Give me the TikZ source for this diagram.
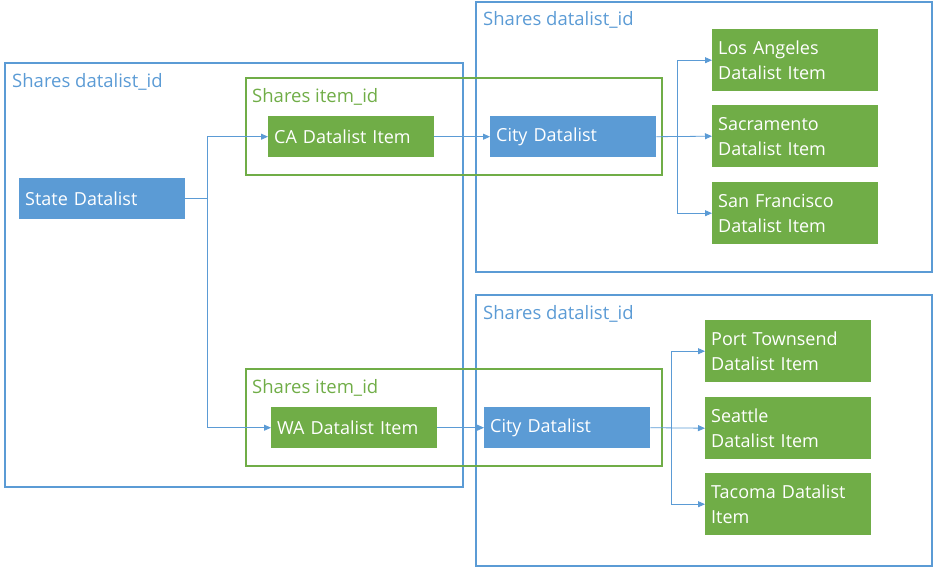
\documentclass[tikz,border=0pt]{standalone}
\usepackage{fontspec}
\setmainfont{Open Sans}
\usetikzlibrary{arrows.meta}
\definecolor{offblue}{HTML}{5B9BD5}
\definecolor{offgreen}{HTML}{70AD47}
\tikzset{
  dlbox/.style={fill=#1, text=white, anchor=north west, minimum width=166pt, inner xsep=6pt,
    text width=154pt, align=left, font=\fontsize{18}{25}\selectfont},
  listbox/.style={dlbox=offblue, minimum height=41pt},
  itembox/.style={dlbox=offgreen, minimum height=41pt},
  itembox2/.style={dlbox=offgreen, minimum height=62pt},
  frame/.style={draw=#1, line width=1.3pt},
  framelabel/.style={text=#1, anchor=west, inner sep=0pt, font=\fontsize{18.5}{22}\selectfont},
  link/.style={draw=offblue, line width=0.8pt, -{Triangle[length=7pt,width=6pt]}},
}
\begin{document}
\begin{tikzpicture}[x=1pt,y=-1pt]
  \useasboundingbox (0,0) rectangle (935,568);
  %riquadri datalist
  \draw[frame=offblue](5,63)rectangle(463,487);
  \draw[frame=offblue](476,2)rectangle(932,272);
  \draw[frame=offblue](476,295)rectangle(932,566);
  \node[framelabel=offblue] (lblstate) at (12,82) {Shares datalist\_id};
  \node[framelabel=offblue] (lblca) at (483,20) {Shares datalist\_id};
  \node[framelabel=offblue] (lblwa) at (483,314) {Shares datalist\_id};
  %riquadri item
  \draw[frame=offgreen](246,78)rectangle(662,175);
  \draw[frame=offgreen](246,369)rectangle(662,466);
  \node[framelabel=offgreen] (lblitemca) at (252,97) {Shares item\_id};
  \node[framelabel=offgreen] (lblitemwa) at (252,388) {Shares item\_id};
  %nodi
  \node[listbox] (state) at (19,178) {State Datalist};
  \node[itembox] (ca) at (268,116) {CA Datalist Item};
  \node[itembox] (wa) at (271,407) {WA Datalist Item};
  \node[listbox] (cityca) at (490,116) {City Datalist};
  \node[listbox] (citywa) at (484,407) {City Datalist};
  \node[itembox2] (la) at (712,29) {Los Angeles\\Datalist Item};
  \node[itembox2] (sac) at (712,105) {Sacramento\\Datalist Item};
  \node[itembox2] (sf) at (712,182) {San Francisco\\Datalist Item};
  \node[itembox2] (pt) at (705,320) {Port Townsend\\Datalist Item};
  \node[itembox2] (sea) at (705,397) {Seattle\\Datalist Item};
  \node[itembox2] (tac) at (705,473) {Tacoma Datalist\\Item};
  %collegamenti
  \coordinate (busstate) at (207,0 |- state.east);
  \coordinate (busca) at (677,0 |- cityca.east);
  \coordinate (buswa) at (671,0 |- citywa.east);
  \draw[link] (state.east) -- (busstate) |- (ca.west);
  \draw[link] (busstate) |- (wa.west);
  \draw[link] (ca.east) -- (cityca.west);
  \draw[link] (wa.east) -- (citywa.west);
  \draw[link] (cityca.east) -- (sac.west);
  \draw[link] (busca) |- (la.west);
  \draw[link] (busca) |- (sf.west);
  \draw[link] (citywa.east) -- (sea.west);
  \draw[link] (buswa) |- (pt.west);
  \draw[link] (buswa) |- (tac.west);
\end{tikzpicture}
\end{document}
